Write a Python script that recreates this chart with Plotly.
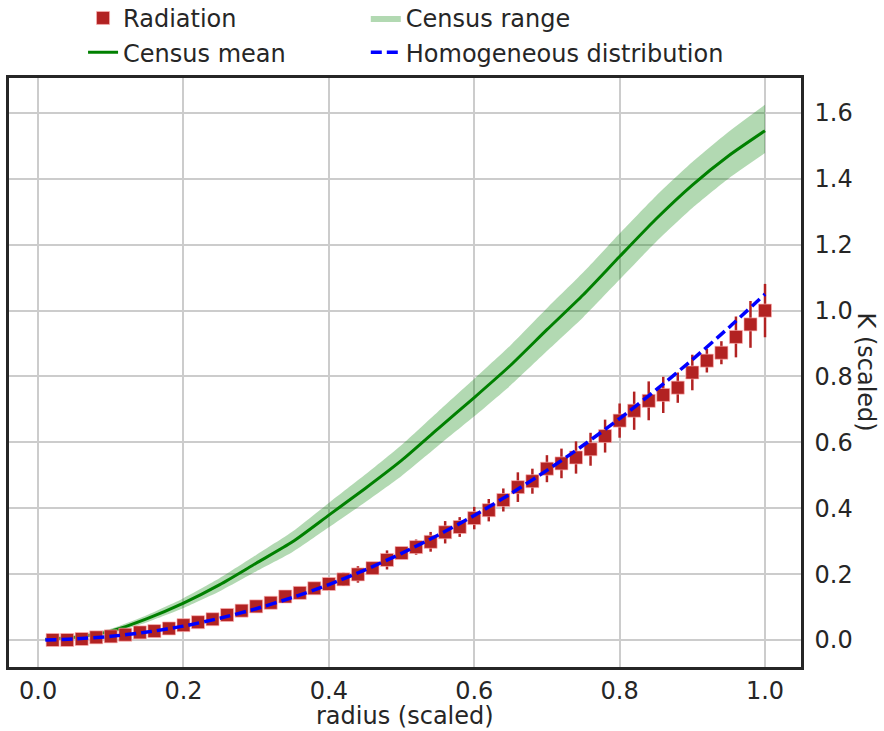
import plotly.graph_objects as go

# ---------------- data ----------------
radius_pts = [0.02, 0.04, 0.06, 0.08, 0.10, 0.12, 0.14, 0.16, 0.18, 0.20,
              0.22, 0.24, 0.26, 0.28, 0.30, 0.32, 0.34, 0.36, 0.38, 0.40,
              0.42, 0.44, 0.46, 0.48, 0.50, 0.52, 0.54, 0.56, 0.58, 0.60,
              0.62, 0.64, 0.66, 0.68, 0.70, 0.72, 0.74, 0.76, 0.78, 0.80,
              0.82, 0.84, 0.86, 0.88, 0.90, 0.92, 0.94, 0.96, 0.98, 1.00]
radiation_k = [0.000, 0.000, 0.003, 0.008, 0.011, 0.016, 0.023, 0.027, 0.035, 0.045,
               0.054, 0.063, 0.076, 0.089, 0.102, 0.113, 0.132, 0.143, 0.157, 0.170,
               0.184, 0.199, 0.218, 0.243, 0.264, 0.282, 0.298, 0.327, 0.343, 0.370,
               0.394, 0.425, 0.464, 0.482, 0.520, 0.536, 0.554, 0.579, 0.619, 0.666,
               0.696, 0.726, 0.744, 0.766, 0.812, 0.848, 0.872, 0.920, 0.958, 1.000]
radiation_err = [0.004, 0.004, 0.005, 0.005, 0.006, 0.006, 0.007, 0.007, 0.008, 0.008,
                 0.009, 0.009, 0.010, 0.010, 0.011, 0.012, 0.012, 0.013, 0.014, 0.015,
                 0.020, 0.025, 0.017, 0.029, 0.018, 0.023, 0.030, 0.034, 0.030, 0.034,
                 0.034, 0.035, 0.045, 0.038, 0.041, 0.045, 0.049, 0.050, 0.050, 0.052,
                 0.058, 0.059, 0.055, 0.046, 0.054, 0.036, 0.035, 0.062, 0.071, 0.081]

radius_grid = [0.01, 0.05, 0.10, 0.15, 0.20, 0.25, 0.30, 0.35, 0.40, 0.45, 0.50,
               0.55, 0.60, 0.65, 0.70, 0.75, 0.80, 0.85, 0.90, 0.95, 1.00]
census_mean = [0.002, 0.008, 0.027, 0.065, 0.112, 0.168, 0.233, 0.298, 0.379, 0.460, 0.545,
               0.641, 0.736, 0.834, 0.942, 1.048, 1.164, 1.278, 1.381, 1.470, 1.546]
census_low = [0.001, 0.004, 0.020, 0.054, 0.097, 0.148, 0.208, 0.267, 0.342, 0.418, 0.498,
              0.589, 0.679, 0.773, 0.877, 0.980, 1.094, 1.208, 1.311, 1.401, 1.478]
census_high = [0.003, 0.012, 0.034, 0.076, 0.127, 0.188, 0.258, 0.329, 0.416, 0.502, 0.592,
               0.693, 0.793, 0.895, 1.007, 1.116, 1.234, 1.348, 1.451, 1.543, 1.625]
homogeneous = [0.000, 0.003, 0.011, 0.024, 0.042, 0.066, 0.095, 0.129, 0.168, 0.213, 0.263,
               0.318, 0.378, 0.444, 0.515, 0.591, 0.672, 0.759, 0.851, 0.948, 1.050]

x_ticks = [0.0, 0.2, 0.4, 0.6, 0.8, 1.0]
y_ticks = [0.0, 0.2, 0.4, 0.6, 0.8, 1.0, 1.2, 1.4, 1.6]

TXT = "#262626"
FONT = "DejaVu Sans"

fig = go.Figure()

# census range band
fig.add_trace(go.Scatter(x=radius_grid, y=census_low, mode="lines",
                         line=dict(width=0, color="rgba(0,128,0,0)", shape="spline", smoothing=0.6),
                         showlegend=False, hoverinfo="skip"))
fig.add_trace(go.Scatter(x=radius_grid, y=census_high, mode="lines", fill="tonexty",
                         fillcolor="rgba(0,128,0,0.3)",
                         line=dict(width=0, color="rgba(0,128,0,0)", shape="spline", smoothing=0.6),
                         name="Census range", legend="legend2", legendrank=1))
# census mean
fig.add_trace(go.Scatter(x=radius_grid, y=census_mean, mode="lines",
                         line=dict(color="green", width=3, shape="spline", smoothing=0.6),
                         name="Census mean", legend="legend", legendrank=2))
# radiation
fig.add_trace(go.Scatter(x=radius_pts, y=radiation_k, mode="markers",
                         marker=dict(symbol="square", size=13, color="#b22222",
                                     line=dict(width=0.8, color="rgba(255,180,180,0.8)")),
                         error_y=dict(type="data", array=radiation_err, color="#b22222",
                                      thickness=2.5, width=0),
                         name="Radiation", legend="legend", legendrank=1))
# homogeneous distribution
fig.add_trace(go.Scatter(x=radius_grid, y=homogeneous, mode="lines",
                         line=dict(color="blue", width=3.5, dash="11px,5px",
                                   shape="spline", smoothing=0.6),
                         name="Homogeneous distribution", legend="legend2", legendrank=2))

axis_common = dict(showgrid=True, gridcolor="#cccccc", gridwidth=1.5,
                   showline=True, linecolor=TXT, linewidth=2.5, mirror=True,
                   ticks="", zeroline=False, tickformat=".1f",
                   tickfont=dict(family=FONT, size=24, color=TXT))

legend_common = dict(xanchor="left", yanchor="top",
                     font=dict(family=FONT, size=24, color=TXT),
                     bgcolor="rgba(0,0,0,0)", tracegroupgap=6, traceorder="normal")

fig.update_layout(
    width=884, height=731,
    margin=dict(l=9, r=83, t=78, b=64, autoexpand=False),
    plot_bgcolor="white", paper_bgcolor="white",
    font=dict(family=FONT, color=TXT),
    xaxis=dict(range=[-0.04, 1.0495], tickvals=x_ticks, automargin=False, **axis_common),
    yaxis=dict(range=[-0.082, 1.706], tickvals=y_ticks, side="right", automargin=False,
               ticklabelstandoff=6, **axis_common),
    legend=dict(x=0.0935, y=1.1395, **legend_common),
    legend2=dict(x=0.4505, y=1.1395, **legend_common),
    annotations=[
        dict(text="radius (scaled)", x=0.5, y=-0.083, xref="paper", yref="paper",
             xanchor="center", yanchor="middle", showarrow=False,
             font=dict(family=FONT, size=24, color=TXT)),
        dict(text="K (scaled)", x=1.0833, y=0.5, xref="paper", yref="paper",
             xanchor="center", yanchor="middle", showarrow=False, textangle=90,
             font=dict(family=FONT, size=24, color=TXT)),
    ],
)

fig.write_html("out.html", config={"displayModeBar": False},
               post_script="document.body.style.margin='0';document.body.style.overflow='hidden';")
